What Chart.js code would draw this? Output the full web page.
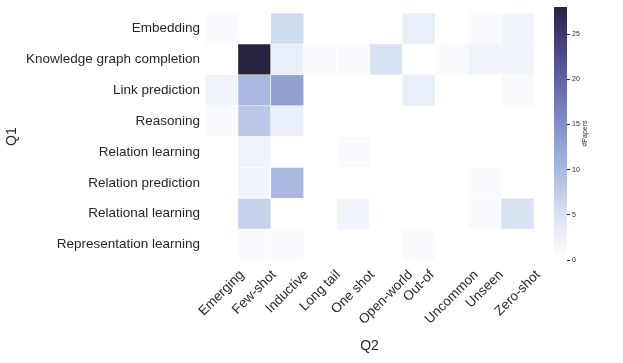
<!DOCTYPE html>
<html>
<head>
<meta charset="utf-8">
<script src="https://cdn.jsdelivr.net/npm/chart.js@4.4.1/dist/chart.umd.min.js"></script>
<style>
  html, body { margin: 0; padding: 0; background: #fff; }
  #wrap { position: relative; width: 623px; height: 363px; }
  #heat { position: absolute; left: 0; top: 0; }
  #cbar { position: absolute; left: 554px; top: 0; }
</style>
</head>
<body>
<div id="wrap">
  <canvas id="heat" width="623" height="363"></canvas>
  <canvas id="cbar" width="69" height="363"></canvas>
</div>
<script>
"use strict";

// Q1 rows (top to bottom), Q2 columns (left to right)
const rowLabels = ["Embedding", "Knowledge graph completion", "Link prediction", "Reasoning",
  "Relation learning", "Relation prediction", "Relational learning", "Representation learning"];
const colLabels = ["Emerging", "Few-shot", "Inductive", "Long tail", "One shot",
  "Open-world", "Out-of", "Uncommon", "Unseen", "Zero-shot"];

// #Papers per cell, null = no papers (blank cell)
const embedding      = [1,    null, 6,    null, null, null, 3,    null, 1,    2];
const kgCompletion   = [null, 28,   3,    1,    1,    5,    null, 1,    2,    2];
const linkPrediction = [2,    10,   13,   null, null, null, 3,    null, null, 1];
const reasoning      = [1,    8,    3,    null, null, null, null, null, null, null];
const relLearning    = [null, 2,    null, null, 1,    null, null, null, null, null];
const relPrediction  = [null, 2,    10,   null, null, null, null, null, 1,    null];
const relationalLrn  = [null, 7,    null, null, 2,    null, null, null, 1,    5];
const reprLearning   = [null, 1,    1,    null, null, null, 1,    null, null, null];

const cbMax   = 28;
const cbTicks = [0, 5, 10, 15, 20, 25];

const FONT = "'Liberation Sans', Arial, sans-serif";
const INK  = "#262626";

const grid = [embedding, kgCompletion, linkPrediction, reasoning,
  relLearning, relPrediction, relationalLrn, reprLearning];

// light blue -> dark navy colour map
const stops = [
  [0.0, "#ffffff"], [0.1, "#eaf0f9"], [0.2, "#d3def1"], [0.3, "#b7c6e6"],
  [0.4, "#9eafdb"], [0.5, "#8898cc"], [0.6, "#7580bb"], [0.7, "#6367a6"],
  [0.8, "#4e4e8a"], [0.9, "#3b386b"], [1.0, "#2a2340"],
];

function hexRgb(h) {
  return [1, 3, 5].map(i => parseInt(h.slice(i, i + 2), 16));
}

function colorFor(v) {
  const t = Math.max(0, Math.min(1, v / cbMax));
  for (let i = 1; i < stops.length; i++) {
    if (t <= stops[i][0]) {
      const [t0, c0] = stops[i - 1], [t1, c1] = stops[i];
      const f = (t - t0) / (t1 - t0);
      const a = hexRgb(c0), b = hexRgb(c1);
      return "rgb(" + a.map((x, k) => Math.round(x + (b[k] - x) * f)).join(",") + ")";
    }
  }
  return stops[stops.length - 1][1];
}

/* rotated x labels, centred under each column like matplotlib */
const xLabels = {
  id: "xLabels",
  afterDraw(chart) {
    const { ctx, chartArea } = chart;
    const xs = chart.scales.x;
    const size = 13.5;
    ctx.save();
    ctx.font = size + "px " + FONT;
    ctx.fillStyle = INK;
    ctx.textAlign = "center";
    ctx.textBaseline = "middle";
    colLabels.forEach((lab, i) => {
      const w = ctx.measureText(lab).width;
      const half = (w + size) * Math.SQRT1_2 / 2;
      ctx.save();
      ctx.translate(xs.getPixelForTick(i), chartArea.bottom + 8 + half);
      ctx.rotate(-Math.PI / 4);
      ctx.fillText(lab, 0, 0);
      ctx.restore();
    });
    ctx.restore();
  },
};

new Chart(document.getElementById("heat"), {
  type: "bar",
  data: {
    labels: colLabels,
    datasets: grid.map((row, r) => ({
      label: rowLabels[r],
      data: row.map(v => (v == null ? null : [r, r + 1])),
      backgroundColor: row.map(v => (v == null ? "rgba(0,0,0,0)" : colorFor(v))),
      borderColor: "#ffffff",
      borderWidth: 0.6,
      borderSkipped: false,
      grouped: false,
      barPercentage: 1,
      categoryPercentage: 1,
    })),
  },
  options: {
    responsive: false,
    animation: false,
    events: [],
    layout: { padding: { left: 0, top: 7, right: 89, bottom: 0 } },
    plugins: { legend: { display: false }, tooltip: { enabled: false } },
    scales: {
      x: {
        grid: { display: false, drawTicks: false },
        border: { display: false },
        ticks: { display: false },
        title: { display: true, text: "Q2", color: INK, font: { family: FONT, size: 14 }, padding: { top: 0, bottom: 8 } },
        afterFit(s) { s.height = 103; },
      },
      y: {
        type: "linear",
        min: 0,
        max: rowLabels.length,
        reverse: true,
        grid: { display: false, drawTicks: false },
        border: { display: false },
        afterBuildTicks(s) { s.ticks = rowLabels.map((_, i) => ({ value: i + 0.5 })); },
        ticks: {
          autoSkip: false,
          padding: 5,
          color: INK,
          font: { family: FONT, size: 13.5 },
          callback: v => rowLabels[Math.floor(v)],
        },
        title: { display: true, text: "Q1", color: INK, font: { family: FONT, size: 14 }, padding: { top: 4, bottom: 0 } },
        afterFit(s) { s.width = 205; },
      },
    },
  },
  plugins: [xLabels],
});

/* colour bar title reads bottom-to-top */
const cbTitle = {
  id: "cbTitle",
  afterDraw(chart) {
    const { ctx, chartArea } = chart;
    ctx.save();
    ctx.font = "7px " + FONT;
    ctx.fillStyle = INK;
    ctx.textAlign = "center";
    ctx.textBaseline = "middle";
    ctx.translate(chartArea.right + 18, (chartArea.top + chartArea.bottom) / 2);
    ctx.rotate(-Math.PI / 2);
    ctx.fillText("#Papers", 0, 0);
    ctx.restore();
  },
};

new Chart(document.getElementById("cbar"), {
  type: "bar",
  data: {
    labels: [""],
    datasets: [{
      data: [[0, cbMax]],
      backgroundColor(c) {
        const a = c.chart.chartArea;
        if (!a) return null;
        const g = c.chart.ctx.createLinearGradient(0, a.bottom, 0, a.top);
        stops.forEach(([t, col]) => g.addColorStop(t, col));
        return g;
      },
      borderWidth: 0,
      barPercentage: 1,
      categoryPercentage: 1,
    }],
  },
  options: {
    responsive: false,
    animation: false,
    events: [],
    layout: { padding: { left: 0, top: 7, right: 0, bottom: 103 } },
    plugins: { legend: { display: false }, tooltip: { enabled: false } },
    scales: {
      x: { display: false },
      y: {
        position: "right",
        min: 0,
        max: cbMax,
        border: { display: false },
        grid: { drawOnChartArea: false, drawTicks: true, tickLength: 3, color: INK },
        afterBuildTicks(s) { s.ticks = cbTicks.map(v => ({ value: v })); },
        ticks: { padding: 2, color: INK, font: { family: FONT, size: 7 } },
        afterFit(s) { s.width = 56; },
      },
    },
  },
  plugins: [cbTitle],
});
</script>
</body>
</html>
